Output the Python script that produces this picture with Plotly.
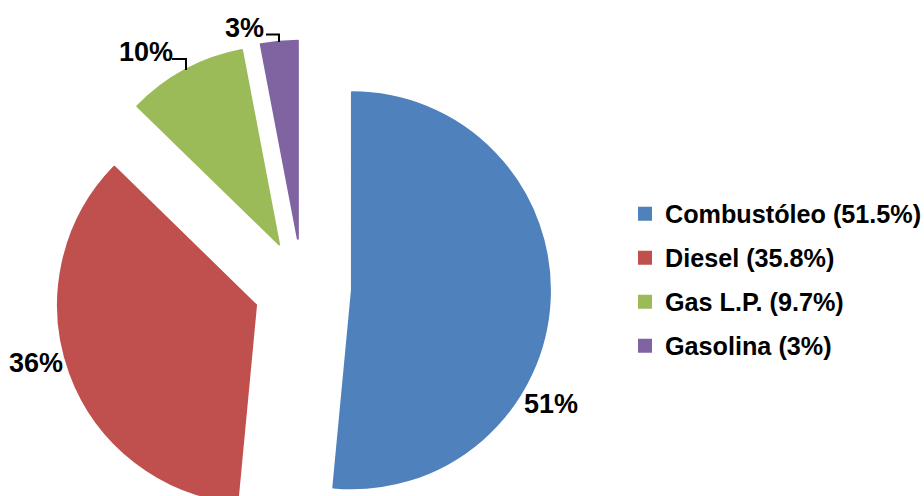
import plotly.graph_objects as go

# Fuel consumption shares
fuels = ["Combustóleo", "Diesel", "Gas L.P.", "Gasolina"]
shares = [51.5, 35.8, 9.7, 3.0]
slice_labels = ["51%", "36%", "10%", "3%"]
colors = ["#4F81BD", "#C0504D", "#9BBB59", "#8064A2"]

W, H = 940, 540


def px(x):
    return x / W


def py(y):
    return 1 - y / H


# pie geometry in pixels: centre, radius and explosion fraction
CX, CY, R, PULL = 302.5, 288, 198, 0.25
HALF = R * (1 + PULL)

# legend entries: name plus share; the extra line sets the row spacing
legend_text = [
    f"<sub><span style='font-size:25.2px'>{n} ({v:g}%)</span></sub><br> "
    for n, v in zip(fuels, shares)
]

fig = go.Figure(
    go.Pie(
        labels=legend_text,
        values=shares,
        sort=False,
        direction="clockwise",
        rotation=0,
        pull=[PULL] * len(shares),
        marker=dict(colors=colors, line=dict(color=colors, width=2)),
        textinfo="none",
        hoverinfo="label+percent",
        domain=dict(x=[px(CX - HALF), px(CX + HALF)], y=[py(CY + HALF), py(CY - HALF)]),
    )
)

# percentage labels placed around the exploded slices
label_pos = [(551, 404), (36, 363), (146, 52), (244, 28)]
for txt, (x, y) in zip(slice_labels, label_pos):
    fig.add_annotation(
        text=txt, x=px(x), y=py(y), xref="paper", yref="paper",
        showarrow=False, xanchor="center", yanchor="middle",
        font=dict(family="Liberation Sans", size=27, color="#000000", weight="bold"),
    )

# leader lines for the two small slices
for pts in [[(172, 59), (186, 59), (186, 70)], [(266, 34.5), (279, 34.5), (279, 42)]]:
    path = "M" + " L".join(f"{px(x)},{py(y)}" for x, y in pts)
    fig.add_shape(type="path", path=path, xref="paper", yref="paper",
                  line=dict(color="#000000", width=2))

fig.update_layout(
    width=W, height=H,
    margin=dict(l=0, r=0, t=0, b=0),
    paper_bgcolor="#FFFFFF",
    plot_bgcolor="#FFFFFF",
    showlegend=True,
    legend=dict(
        x=px(625), y=py(197), xanchor="left", yanchor="top",
        valign="top",
        font=dict(family="Liberation Sans", size=15.77, color="#000000", weight="bold"),
        bgcolor="rgba(0,0,0,0)", borderwidth=0,
    ),
)

fig.write_html(
    "out.html",
    post_script="document.documentElement.style.overflow='hidden';document.body.style.overflow='hidden';",
)
